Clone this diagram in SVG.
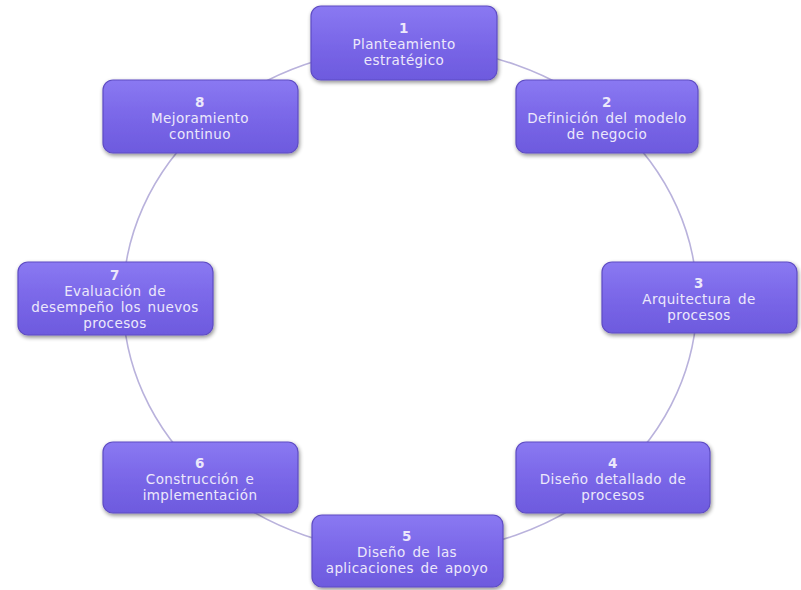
<svg xmlns="http://www.w3.org/2000/svg" width="801" height="590" viewBox="0 0 801 590">
<defs>
<linearGradient id="g" x1="0" y1="0" x2="0" y2="1">
<stop offset="0" stop-color="#8a79f2"/>
<stop offset="0.5" stop-color="#7a67e8"/>
<stop offset="1" stop-color="#6d5ade"/>
</linearGradient>
<filter id="sh" x="-10%" y="-10%" width="120%" height="130%">
<feGaussianBlur in="SourceAlpha" stdDeviation="2"/>
<feOffset dx="1" dy="2" result="b"/>
<feComponentTransfer><feFuncA type="linear" slope="0.45"/></feComponentTransfer>
<feMerge><feMergeNode/><feMergeNode in="SourceGraphic"/></feMerge>
</filter>
</defs>
<style>
.box{fill:url(#g);stroke:#5e4cc4;stroke-width:1.2;filter:url(#sh)}
.t{font-family:"DejaVu Sans",Verdana,sans-serif;font-size:13.5px;fill:#ece8fb;text-anchor:middle;letter-spacing:0.4px;word-spacing:2px}
.n{font-weight:bold}
.c{fill:none;stroke:#b9b2dc;stroke-width:1.6}
</style>
<rect width="801" height="590" fill="#ffffff"/>
<g id="connectors">
<ellipse class="c" cx="410" cy="300" rx="287" ry="253"/>
</g>
<g id="node1">
<rect class="box" x="311" y="6" width="186" height="74" rx="10"/>
<text class="t n" x="404" y="33">1</text>
<text class="t" x="404" y="49">Planteamiento</text>
<text class="t" x="404" y="65">estratégico</text>
</g>
<g id="node2">
<rect class="box" x="516" y="80" width="182" height="73" rx="10"/>
<text class="t n" x="607" y="107">2</text>
<text class="t" x="607" y="123">Definición del modelo</text>
<text class="t" x="607" y="139">de negocio</text>
</g>
<g id="node3">
<rect class="box" x="602" y="262" width="195" height="71" rx="10"/>
<text class="t n" x="699" y="288">3</text>
<text class="t" x="699" y="304">Arquitectura de</text>
<text class="t" x="699" y="320">procesos</text>
</g>
<g id="node4">
<rect class="box" x="516" y="442" width="194" height="71" rx="10"/>
<text class="t n" x="613" y="468">4</text>
<text class="t" x="613" y="484">Diseño detallado de</text>
<text class="t" x="613" y="500">procesos</text>
</g>
<g id="node5">
<rect class="box" x="312" y="515" width="191" height="72" rx="10"/>
<text class="t n" x="407" y="541">5</text>
<text class="t" x="407" y="557">Diseño de las</text>
<text class="t" x="407" y="573">aplicaciones de apoyo</text>
</g>
<g id="node6">
<rect class="box" x="103" y="442" width="195" height="71" rx="10"/>
<text class="t n" x="200" y="468">6</text>
<text class="t" x="200" y="484">Construcción e</text>
<text class="t" x="200" y="500">implementación</text>
</g>
<g id="node7">
<rect class="box" x="18" y="262" width="195" height="73" rx="10"/>
<text class="t n" x="115" y="280">7</text>
<text class="t" x="115" y="296">Evaluación de</text>
<text class="t" x="115" y="312">desempeño los nuevos</text>
<text class="t" x="115" y="328">procesos</text>
</g>
<g id="node8">
<rect class="box" x="103" y="80" width="195" height="73" rx="10"/>
<text class="t n" x="200" y="107">8</text>
<text class="t" x="200" y="123">Mejoramiento</text>
<text class="t" x="200" y="139">continuo</text>
</g>
</svg>
